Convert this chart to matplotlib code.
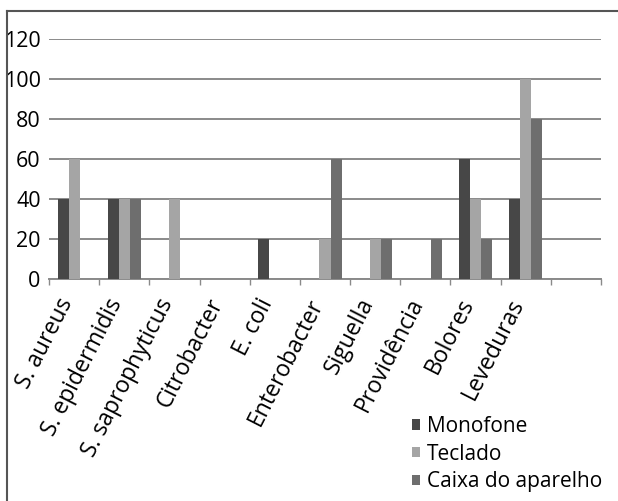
import matplotlib
matplotlib.use("Agg")
import matplotlib.pyplot as plt
import matplotlib.transforms as mtransforms
import numpy as np
from matplotlib.lines import Line2D

plt.rcParams["font.family"] = ["Open Sans", "DejaVu Sans"]

categories = ["S. aureus", "S. epidermidis", "S. saprophyticus", "Citrobacter",
              "E. coli", "Enterobacter", "Siguella", "Providência", "Bolores",
              "Leveduras"]
series = ["Monofone", "Teclado", "Caixa do aparelho"]
monofone = [40, 40, 0, 0, 20, 0, 0, 0, 60, 40]
teclado = [60, 40, 40, 0, 0, 20, 20, 0, 40, 100]
caixa = [0, 40, 0, 0, 0, 60, 20, 20, 20, 80]
yticks = [0, 20, 40, 60, 80, 100, 120]

colors = ["#474747", "#a5a5a5", "#6e6e6e"]

fig = plt.figure(figsize=(6.18, 5.01), dpi=100)
ax = fig.add_axes([49 / 618, 1 - 279 / 501, 552 / 618, 240 / 501])

x = np.arange(len(categories))
w = 0.22
for i, (vals, c, name) in enumerate(zip([monofone, teclado, caixa], colors, series)):
    ax.bar(x + (i - 1) * w, vals, width=w, color=c, label=name, zorder=3)

# one empty slot after the last category
ax.set_xlim(-0.5, len(categories) + 0.5)
ax.set_ylim(0, 120)
ax.set_yticks(yticks)
ax.yaxis.grid(True, color="#8a8a8a", lw=1.4, zorder=0)
ax.tick_params(axis="y", length=0, pad=6, labelsize=15.5)

ax.set_xticks(x)
ax.set_xticklabels(categories, rotation=63, ha="right", va="center",
                   rotation_mode="anchor", fontsize=16.5)
ax.tick_params(axis="x", which="major", length=0, pad=15)
shift = mtransforms.ScaledTranslation(-7 / 100, 0, fig.dpi_scale_trans)
for lbl in ax.get_xticklabels():
    lbl.set_transform(lbl.get_transform() + shift)
ax.set_xticks(np.arange(-0.5, len(categories) + 1), minor=True)
ax.tick_params(axis="x", which="minor", length=4, width=1, color="#8a8a8a")

for s in ["top", "right", "left"]:
    ax.spines[s].set_visible(False)
ax.spines["bottom"].set_color("#8a8a8a")
ax.spines["bottom"].set_linewidth(1.4)

# outer frame, cut off on the right and bottom
fig.add_artist(Line2D([7 / 618, 1], [1 - 11 / 501, 1 - 11 / 501],
                      transform=fig.transFigure, color="#555555", lw=1.5))
fig.add_artist(Line2D([7 / 618, 7 / 618], [0, 1 - 11 / 501],
                      transform=fig.transFigure, color="#555555", lw=1.5))

ax.legend(loc="upper left", bbox_to_anchor=(412 / 618, 1 - 416 / 501),
          bbox_transform=fig.transFigure, frameon=False, fontsize=15,
          handlelength=0.4, handleheight=0.4, handletextpad=0.3,
          labelspacing=0.32, borderpad=0, borderaxespad=0)

fig.savefig("out.png", dpi=100)
